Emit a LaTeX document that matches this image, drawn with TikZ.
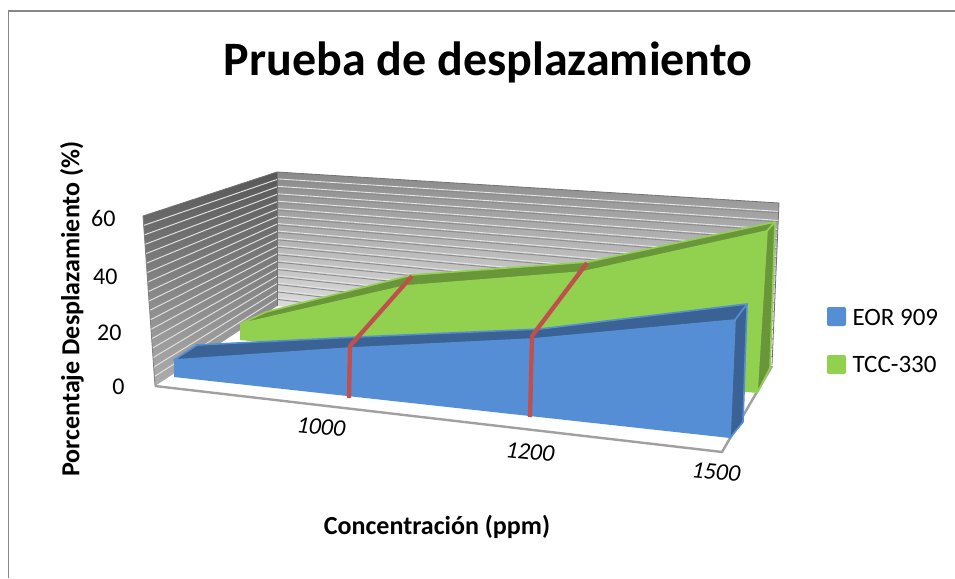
\documentclass[tikz,border=0pt]{standalone}
\usepackage{fontspec}
\setmainfont{Carlito}
\definecolor{bluef}{RGB}{85,142,213}
\definecolor{bluetop}{RGB}{58,98,148}
\definecolor{greenf}{RGB}{146,208,80}
\definecolor{greentop}{RGB}{104,150,56}
\definecolor{redl}{RGB}{192,80,77}
\definecolor{framegray}{RGB}{134,134,134}
\definecolor{floorgray}{RGB}{160,160,160}
\tikzset{
  frameline/.style={draw=framegray, line width=1.6pt},
  floorline/.style={draw=floorgray, line width=2.4pt, line join=round},
  bluebody/.style={fill=bluef},
  bluecap/.style={fill=bluetop, draw=bluef, line width=1.6pt, line join=round},
  greenbody/.style={fill=greenf},
  greencap/.style={fill=greentop, draw=greenf, line width=1.6pt, line join=round},
  dropline/.style={draw=redl, line width=4.3pt, line join=round},
  ticklab/.style={font=\fontsize{24}{28}\selectfont, anchor=east},
  xlab/.style={font=\fontsize{24}{28}\selectfont\itshape, rotate=-6},
  legtext/.style={font=\fontsize{25}{30}\selectfont, anchor=west},
  legbox/.style={minimum size=19pt, inner sep=0pt, rounded corners=2pt},
  axtitle/.style={font=\fontsize{26}{31}\selectfont\bfseries},
}
\begin{document}
\begin{tikzpicture}[x=1pt,y=-1pt]
\useasboundingbox (0,0) rectangle (955,578);
\fill[white] (0,0) rectangle (955,578);
\draw[frameline] (8.5,578) -- (8.5,11) -- (955,11);

% walls
\shade[top color=black!46, middle color=black!14, bottom color=white] (277,172) -- (779,203) -- (772,365) -- (277,306) -- cycle;
\shade[top color=black!66, bottom color=black!32] (143,216) -- (277,172) -- (277,306) -- (155,386) -- cycle;
\foreach \k in {1,...,17}{
  \pgfmathsetmacro{\t}{\k/18}
  \pgfmathsetmacro{\ya}{172+134*\t}
  \pgfmathsetmacro{\yb}{203+162*\t}
  \pgfmathsetmacro{\xb}{779-7*\t}
  \pgfmathsetmacro{\xf}{143+12*\t}
  \pgfmathsetmacro{\yf}{216+170*\t}
  \draw[black!45, line width=0.9pt] (277,\ya+0.8) -- (\xb,\yb+0.8);
  \draw[white!80!gray, line width=0.9pt] (277,\ya-0.6) -- (\xb,\yb-0.6);
  \draw[white!75!gray, line width=1pt] (\xf,\yf) -- (277,\ya);
}
\draw[black!55, line width=0.8pt] (143,216) -- (277,172) -- (779,203) -- (772,365);
\draw[black!50, line width=0.8pt] (143,216) -- (155,386);
\draw[black!55, line width=0.8pt] (277,172) -- (277,306);

% floor
\draw[floorline] (155,386) -- (722,452) -- (772,366);

% green series
\fill[greenbody] (240,340) -- (240,324) -- (405,286) -- (582,272) -- (767,231) -- (757,393) -- cycle;
\filldraw[greencap] (240,324) -- (405,286) -- (582,272) -- (767,231) -- (775,222) -- (588,262) -- (412,275) -- (266,312) -- cycle;
\filldraw[greencap] (767,231) -- (775,222) -- (770,368) -- (757,393) -- cycle;

% blue series
\fill[bluebody] (174,377) -- (174,360) -- (350,348) -- (532,339) -- (735,320) -- (730,438) -- cycle;
\filldraw[bluecap] (174,360) -- (350,348) -- (532,339) -- (735,320) -- (747,304) -- (540,329) -- (358,337) -- (197,345) -- cycle;
\filldraw[bluecap] (735,320) -- (747,304) -- (743,422) -- (730,438) -- cycle;

% red lines
\coordinate (a0) at (349,398);
\coordinate (a1) at (350,346);
\coordinate (a2) at (412,276);
\coordinate (b0) at (530,417);
\coordinate (b1) at (532,336);
\coordinate (b2) at (587,263);
\draw[dropline] (a0) -- (a1) -- (a2);
\draw[dropline] (b0) -- (b1) -- (b2);

% title
\node[font=\fontsize{48}{56}\selectfont\bfseries] (title) at (488,62) {Prueba de desplazamiento};

% axis labels
\node[ticklab] (y60) at (119,218) {60};
\node[ticklab] (y40) at (121,277) {40};
\node[ticklab] (y20) at (125,333) {20};
\node[ticklab] (y0) at (128,387) {0};
\node[xlab] (x1000) at (321,427) {1000};
\node[xlab] (x1200) at (530,452) {1200};
\node[xlab] (x1500) at (716,472) {1500};

\node[axtitle, rotate=90] (ytitle) at (72,309) {Porcentaje Desplazamiento (\%)};
\node[axtitle] (xtitle) at (437,527) {Concentración (ppm)};

% legend
\node[legbox, fill=bluef] (lb1) at (836.5,316.5) {};
\node[legtext] (lt1) at (849,317) {EOR 909};
\node[legbox, fill=greenf] (lb2) at (836.5,364.5) {};
\node[legtext] (lt2) at (849,364) {TCC-330};
\end{tikzpicture}
\end{document}
